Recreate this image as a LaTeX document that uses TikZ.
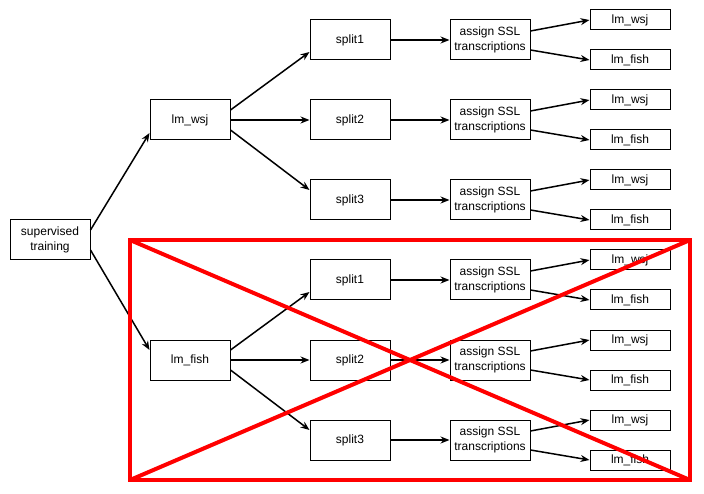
\documentclass[tikz,border=0pt]{standalone}
\usepackage{fontspec}
\setmainfont{Liberation Sans}
\usetikzlibrary{arrows.meta,calc}
\begin{document}
\begin{tikzpicture}[x=1pt,y=-1pt,
  box/.style={draw,line width=1pt,fill=white,minimum width=80pt,minimum height=40pt,inner sep=0pt,align=center,font=\fontsize{12}{15}\selectfont},
  leaf/.style={box,minimum height=20pt},
  edge/.style={line width=1.5pt,-{Stealth[length=9pt,width=7pt]}},
  cross/.style={draw=red,line width=4pt}]
\useasboundingbox[fill=white] (0,0) rectangle (704,494);
\node[box] (st) at (50,240) {supervised\\training};
\node[box] (lw) at (190,120) {lm\_wsj};
\node[box] (lf) at (190,360) {lm\_fish};
\draw[edge] ($(st.east)+(0,-10)$) -- ($(lw.west)+(0,13)$);
\draw[edge] ($(st.east)+(0,10)$) -- ($(lf.west)+(0,-10)$);
\foreach \g/\c in {w/120,f/360}{
  \foreach \i/\d in {1/-80,2/0,3/80}{
    \pgfmathsetmacro\yy{\c+\d}
    \node[box] (\g s\i) at (350,\yy) {split\i};
    \node[box] (\g a\i) at (490,\yy) {assign SSL\\transcriptions};
    \node[leaf] (\g w\i) at (630,\yy-20) {lm\_wsj};
    \node[leaf] (\g f\i) at (630,\yy+20) {lm\_fish};
    \draw[edge] (\g s\i) -- (\g a\i);
    \draw[edge] ($(\g a\i.east)+(0,-9)$) -- (\g w\i.west);
    \draw[edge] ($(\g a\i.east)+(0,10)$) -- (\g f\i.west);
  }
  \draw[edge] ($(l\g.east)+(0,-10)$) -- ($(\g s1.west)+(0,12)$);
  \draw[edge] (l\g) -- (\g s2);
  \draw[edge] ($(l\g.east)+(0,10)$) -- ($(\g s3.west)+(0,-10)$);
}
\draw[cross] (130,240) rectangle (690,480);
\draw[cross] (130,240) -- (690,480);
\draw[cross] (130,480) -- (690,240);
\end{tikzpicture}
\end{document}
